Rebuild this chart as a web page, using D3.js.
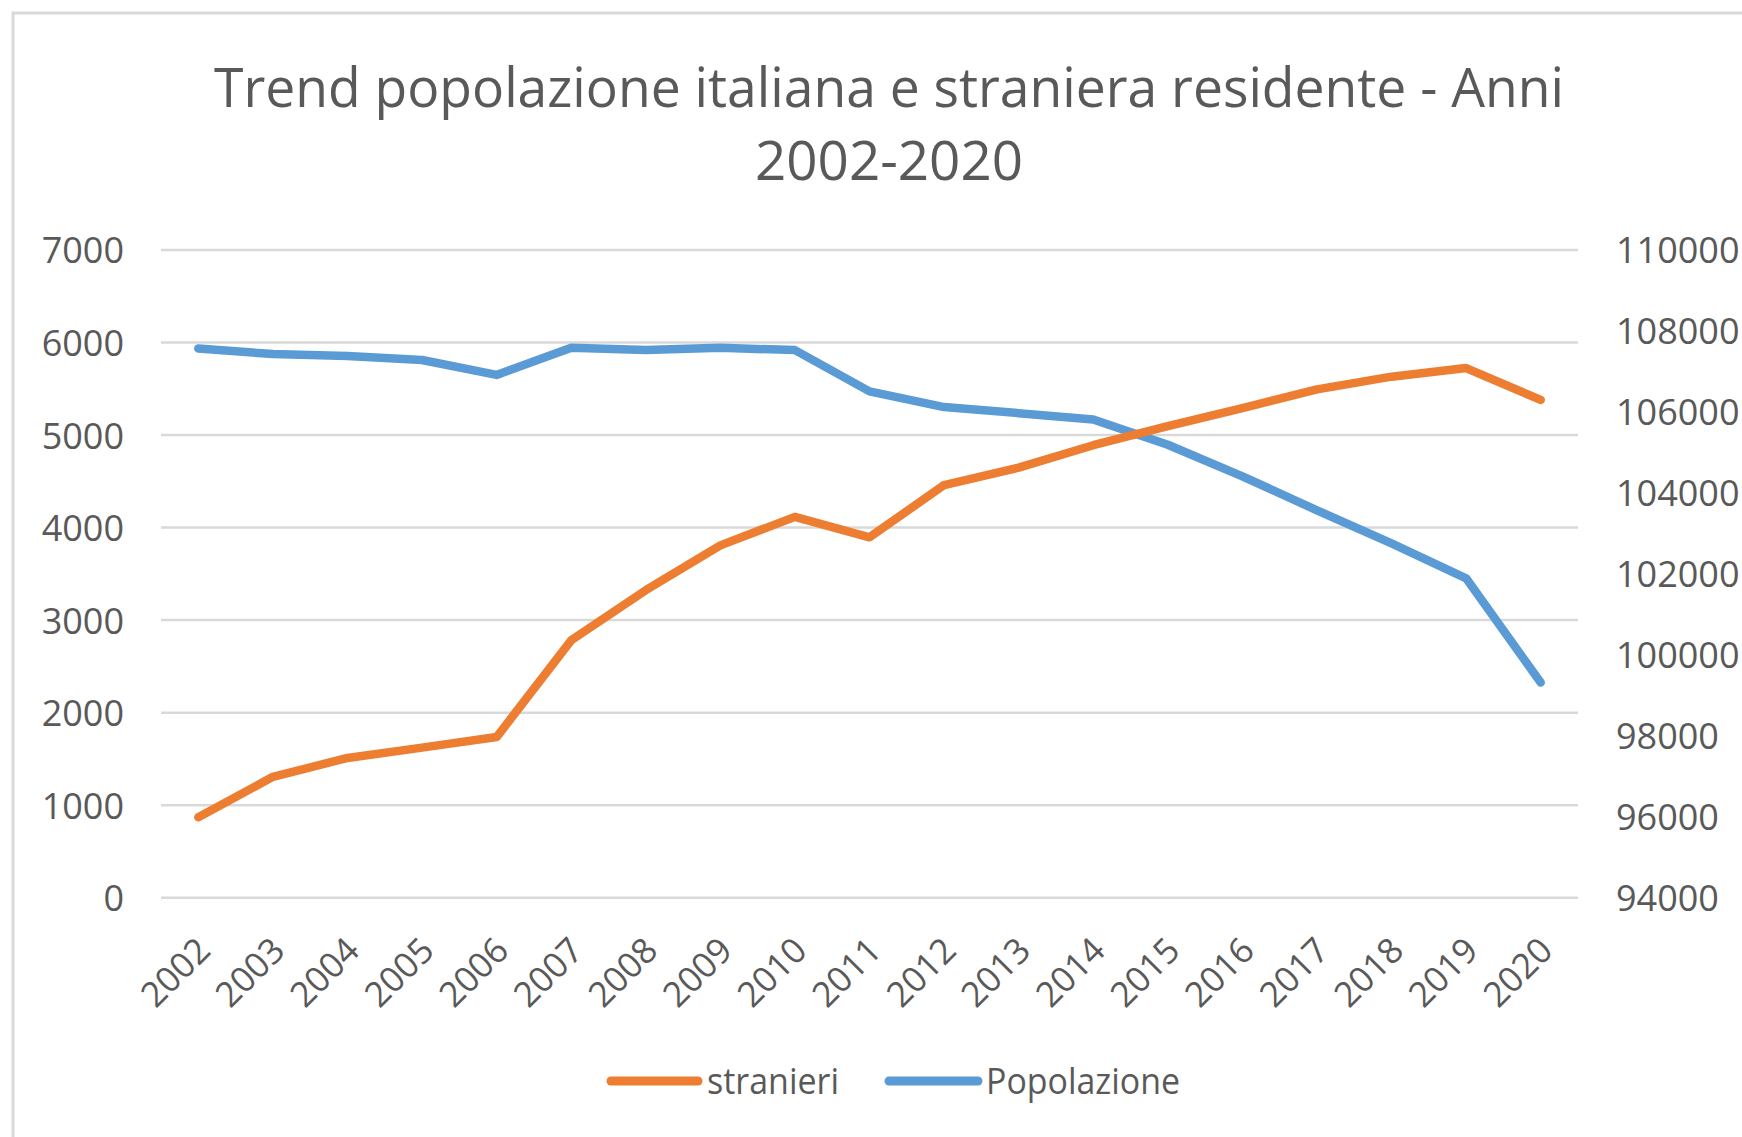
<!DOCTYPE html>
<html>
<head>
<meta charset="utf-8">
<script src="https://cdn.jsdelivr.net/npm/d3@7"></script>
<style>
  html, body { margin: 0; padding: 0; background: #fff; }
  svg { display: block; }
  text { font-family: "Open Sans", "Noto Sans", sans-serif; fill: #595959; }
</style>
</head>
<body>
<svg id="chart" width="1742" height="1137"></svg>
<script>
const years = ["2002","2003","2004","2005","2006","2007","2008","2009","2010","2011","2012","2013","2014","2015","2016","2017","2018","2019","2020"];
const stranieri = [870, 1306, 1510, 1622, 1736, 2782, 3323, 3808, 4116, 3895, 4460, 4648, 4890, 5097, 5290, 5494, 5631, 5724, 5380];
const popolazione = [107568, 107429, 107381, 107282, 106914, 107584, 107527, 107584, 107527, 106508, 106120, 105970, 105815, 105190, 104410, 103570, 102750, 101890, 99315];
const leftTicks = [0, 1000, 2000, 3000, 4000, 5000, 6000, 7000];
const rightTicks = [94000, 96000, 98000, 100000, 102000, 104000, 106000, 108000, 110000];
const titleLines = ["Trend popolazione italiana e straniera residente - Anni", "2002-2020"];
const seriesNames = ["stranieri", "Popolazione"];
const colors = ["#ED7D31", "#5B9BD5"];

const svg = d3.select("#chart");

// outer frame
svg.append("rect").attr("x", 13).attr("y", 13).attr("width", 1800).attr("height", 1200)
  .attr("fill", "#fff").attr("stroke", "#d9d9d9").attr("stroke-width", 3);

const x = d3.scaleBand().domain(years).range([161, 1578]);
const yL = d3.scaleLinear().domain([0, 7000]).range([897.7, 250]);
const yR = d3.scaleLinear().domain([94000, 110000]).range([897.7, 250]);

// gridlines
svg.append("g").selectAll("line").data(leftTicks).join("line")
  .attr("x1", 161).attr("x2", 1578)
  .attr("y1", d => yL(d)).attr("y2", d => yL(d))
  .attr("stroke", "#d9d9d9").attr("stroke-width", 2.5);

// left axis
const axL = svg.append("g").attr("transform", "translate(124,0)")
  .call(d3.axisLeft(yL).tickValues(leftTicks).tickSize(0).tickPadding(0).tickFormat(d3.format("d")));
axL.select(".domain").remove();
axL.selectAll("text").attr("font-size", 36).attr("fill", "#595959")
  .attr("font-family", "Open Sans").attr("dy", "0.36em");

// right axis
const axR = svg.append("g").attr("transform", "translate(1616,0)")
  .call(d3.axisRight(yR).tickValues(rightTicks).tickSize(0).tickPadding(0).tickFormat(d3.format("d")));
axR.select(".domain").remove();
axR.selectAll("text").attr("font-size", 36).attr("fill", "#595959")
  .attr("font-family", "Open Sans").attr("dy", "0.36em");

// x axis labels
const axX = svg.append("g").attr("transform", "translate(0,897.7)")
  .call(d3.axisBottom(x).tickSize(0).tickPadding(0));
axX.select(".domain").remove();
axX.selectAll("text")
  .attr("font-size", 35).attr("fill", "#595959").attr("font-family", "Open Sans")
  .attr("text-anchor", "end").attr("y", 0).attr("dy", 0)
  .attr("textLength", 80).attr("lengthAdjust", "spacingAndGlyphs")
  .attr("transform", "translate(14,55) rotate(-45)");

// lines
const cx = d => x(d) + x.bandwidth() / 2;
const lineL = d3.line().x((d, i) => cx(years[i])).y(d => yL(d));
const lineR = d3.line().x((d, i) => cx(years[i])).y(d => yR(d));

svg.append("path").datum(popolazione).attr("d", lineR)
  .attr("fill", "none").attr("stroke", colors[1]).attr("stroke-width", 8.5)
  .attr("stroke-linecap", "round").attr("stroke-linejoin", "round");
svg.append("path").datum(stranieri).attr("d", lineL)
  .attr("fill", "none").attr("stroke", colors[0]).attr("stroke-width", 8.5)
  .attr("stroke-linecap", "round").attr("stroke-linejoin", "round");

// title
svg.append("text").attr("x", 889).attr("y", 107).attr("text-anchor", "middle")
  .attr("font-size", 54).attr("textLength", 1350).attr("lengthAdjust", "spacingAndGlyphs")
  .text(titleLines[0]);
svg.append("text").attr("x", 889).attr("y", 180).attr("text-anchor", "middle")
  .attr("font-size", 54).attr("textLength", 268).attr("lengthAdjust", "spacingAndGlyphs")
  .text(titleLines[1]);

// legend
const legend = [
  {name: seriesNames[0], color: colors[0], x1: 611, x2: 698, tx: 707, tw: 132},
  {name: seriesNames[1], color: colors[1], x1: 889, x2: 978, tx: 986, tw: 194}
];
const lg = svg.append("g");
lg.selectAll("line").data(legend).join("line")
  .attr("x1", d => d.x1).attr("x2", d => d.x2).attr("y1", 1081).attr("y2", 1081)
  .attr("stroke", d => d.color).attr("stroke-width", 9).attr("stroke-linecap", "round");
lg.selectAll("text").data(legend).join("text")
  .attr("x", d => d.tx).attr("y", 1081).attr("dy", "0.36em")
  .attr("font-size", 36).attr("textLength", d => d.tw).attr("lengthAdjust", "spacingAndGlyphs")
  .text(d => d.name);
</script>
</body>
</html>
